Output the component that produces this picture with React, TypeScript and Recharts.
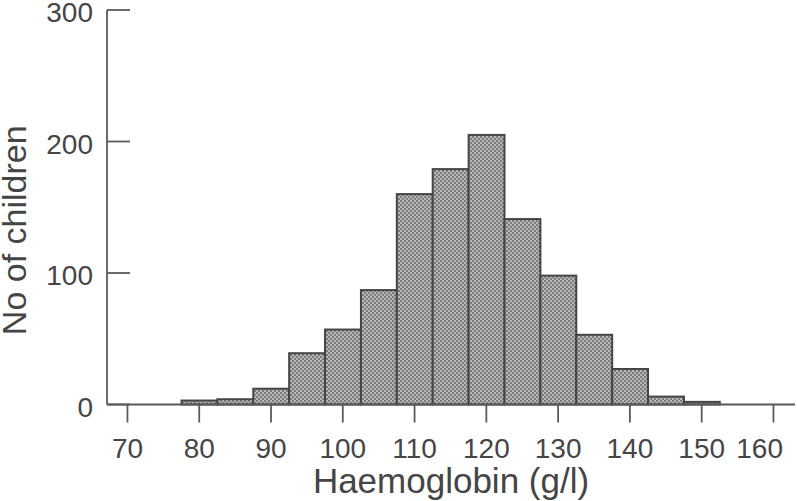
import { BarChart, Bar, XAxis, YAxis } from "recharts";

// histogram bins (g/l, bin centre) and counts
const binCentres = [80, 85, 90, 95, 100, 105, 110, 115, 120, 125, 130, 135, 140, 145, 150];
const children = [3, 4, 12, 39, 57, 87, 160, 179, 205, 141, 98, 53, 27, 6, 2];
const xTicks = [70, 80, 90, 100, 110, 120, 130, 140, 150, 160];
const yTicks = [0, 100, 200, 300];

const data = binCentres.map((hb, i) => ({ hb, n: children[i] }));

const W = 797;
const H = 501;
const LEFT = 107;
const RIGHT = 2;
const X_MIN = 67.15;
const X_MAX = 163;
const BIN = 5;
const BAR_W = (BIN * (W - LEFT - RIGHT)) / (X_MAX - X_MIN);

const AXIS = "#5a5a5a";
const TEXT = "#454545";
const EDGE = "#454545";
const FONT = "'Liberation Sans', Arial, Helvetica, sans-serif";
const TICK_FS = 28;

function HistBar(props: any) {
  const { x, y, width, height } = props;
  if (height == null || !isFinite(height)) return null;
  const cx = x + width / 2;
  return (
    <rect
      x={cx - BAR_W / 2}
      y={y}
      width={BAR_W}
      height={height}
      fill="url(#hatch)"
      stroke={EDGE}
      strokeWidth={2}
    />
  );
}

function YTick({ x, y, payload }: any) {
  return (
    <g>
      <line x1={x} y1={y} x2={x + 23} y2={y} stroke={AXIS} strokeWidth={1.8} />
      <text x={x - 14} y={y} dy={12} textAnchor="end" fill={TEXT} fontSize={TICK_FS} fontFamily={FONT}>
        {payload.value}
      </text>
    </g>
  );
}

// keeps the last label inside the picture, as the original does
function XTick({ x, y, payload }: any) {
  const half = (String(payload.value).length * 0.556 * TICK_FS) / 2;
  const cx = Math.min(x, W - 14 - half);
  return (
    <text x={cx} y={y} dy={20} textAnchor="middle" fill={TEXT} fontSize={TICK_FS} fontFamily={FONT}>
      {payload.value}
    </text>
  );
}

function YTitle({ viewBox }: any) {
  const vb = viewBox || { x: 0, y: 10, width: LEFT, height: 394 };
  const tx = vb.x + 26;
  const ty = vb.y + vb.height / 2 + 23;
  return (
    <text
      x={tx}
      y={ty}
      transform={`rotate(-90, ${tx}, ${ty})`}
      textAnchor="middle"
      fill={TEXT}
      fontSize={34}
      fontFamily={FONT}
    >
      No of children
    </text>
  );
}

export default function App() {
  return (
    <div style={{ position: "absolute", left: 0, top: 0, width: W, height: H, background: "#fff" }}>
      <svg width={0} height={0} style={{ position: "absolute" }}>
        <defs>
          <pattern id="hatch" width={4} height={4} patternUnits="userSpaceOnUse">
            <rect width={4} height={4} fill="#b8b8b8" />
            <rect x={0} y={0} width={2} height={2} fill="#7c7c7c" />
            <rect x={2} y={2} width={2} height={2} fill="#7c7c7c" />
          </pattern>
        </defs>
      </svg>
      <BarChart
        width={W}
        height={H}
        data={data}
        margin={{ top: 10, right: RIGHT, left: 0, bottom: 0 }}
        barCategoryGap={0}
      >
        <XAxis
          dataKey="hb"
          type="number"
          domain={[X_MIN, X_MAX]}
          ticks={xTicks}
          allowDataOverflow
          height={96.5}
          stroke={AXIS}
          strokeWidth={1.8}
          tickSize={18}
          tickMargin={15}
          tick={<XTick />}
          label={{
            value: "Haemoglobin (g/l)",
            position: "insideBottom",
            offset: 8,
            fill: TEXT,
            fontSize: 35,
            fontFamily: FONT,
          }}
        />
        <YAxis
          type="number"
          domain={[0, 300]}
          ticks={yTicks}
          width={LEFT}
          stroke={AXIS}
          strokeWidth={1.8}
          tickLine={false}
          tickSize={0}
          tickMargin={0}
          tick={<YTick />}
          label={<YTitle />}
        />
        <Bar dataKey="n" barSize={BAR_W} shape={<HistBar />} isAnimationActive={false} />
      </BarChart>
    </div>
  );
}
